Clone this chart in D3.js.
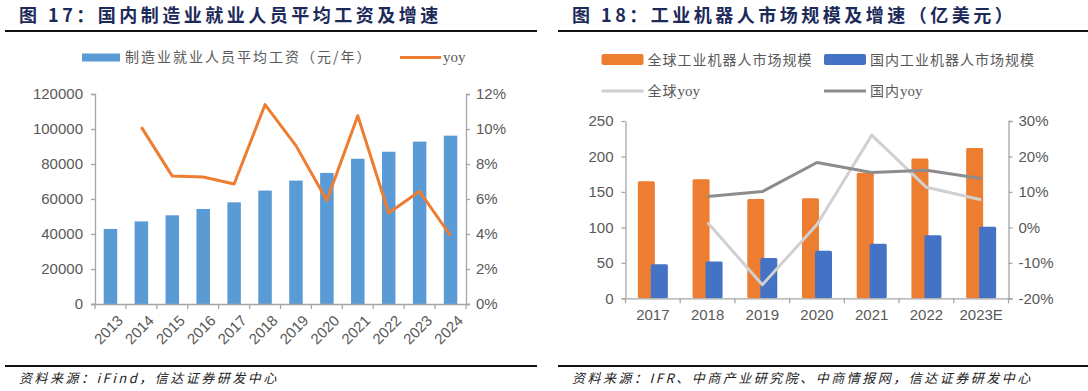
<!DOCTYPE html>
<html><head><meta charset="utf-8">
<script src="https://cdn.jsdelivr.net/npm/d3@7"></script>
<style>
body{margin:0;background:#fff;}
svg{display:block;}
text{font-family:"Liberation Sans",Arial,sans-serif;}
.cjk{font-family:"Noto Sans CJK SC",sans-serif;}
</style></head><body>
<svg id="c" width="1088" height="391"></svg>
<script>
// ---- Chart 17 data ----
const years17 = ["2013","2014","2015","2016","2017","2018","2019","2020","2021","2022","2023","2024"];
const wage17 = [42900,47200,50700,54300,58100,64800,70500,74900,83000,87000,92800,96200];
const yoy17 = [null,10.11,7.31,7.26,6.86,11.39,9.05,5.92,10.76,5.2,6.44,3.9];
const leftTicks17 = [0,20000,40000,60000,80000,100000,120000];
const rightTicks17 = [0,2,4,6,8,10,12];

// ---- Chart 18 data ----
const years18 = ["2017","2018","2019","2020","2021","2022","2023E"];
const global18 = [165,168,140,141,177,197,212];
const china18 = [48,52,57,67,77,89,101];
const globalYoy18 = [null,1.4,-16.2,0.8,26.0,11.3,7.8];
const chinaYoy18 = [null,8.7,10.1,18.3,15.5,16.1,13.8];
const leftTicks18 = [0,50,100,150,200,250];
const rightTicks18 = [-20,-10,0,10,20,30];

const svg = d3.select("#c");
const AX = "#a6a6a6", TX = "#595959", TITLE = "#1c2a5a";

function header(x0, x1, title, source, ls){
  svg.append("text").attr("class","cjk").attr("x", x0+14).attr("y", 22)
    .attr("font-size",18).attr("font-weight","bold").attr("fill",TITLE)
    .attr("letter-spacing",ls+"px").text(title);
  svg.append("line").attr("x1",x0).attr("x2",x1).attr("y1",31).attr("y2",31)
    .attr("stroke","#111").attr("stroke-width",2);
  svg.append("line").attr("x1",x0).attr("x2",x1).attr("y1",366).attr("y2",366)
    .attr("stroke","#111").attr("stroke-width",2);
  svg.append("text").attr("class","cjk").attr("x", x0+14).attr("y", 383)
    .attr("font-size",13).attr("font-style","italic").attr("fill","#222")
    .attr("letter-spacing","2.5px").text(source);
}

function legendText(sel, x, y, cjk, latin, ls){
  const t = sel.append("text").attr("x",x).attr("y",y).attr("font-size",14).attr("fill",TX);
  t.append("tspan").attr("class","cjk").attr("letter-spacing",ls+"px").text(cjk);
  if(latin) t.append("tspan").attr("font-family","'Liberation Serif',serif").attr("font-size",15).text(latin);
  return t;
}

// ================= Chart 17 =================
(function(){
  header(5, 537, "图 17：国内制造业就业人员平均工资及增速", "资料来源：iFind，信达证券研发中心", 3.5);
  const L = 95, R = 466, T = 94, B = 304;
  const x = d3.scaleBand().domain(years17).range([L,R]).paddingInner(0).paddingOuter(0);
  const y = d3.scaleLinear().domain([0,120000]).range([B,T]);
  const y2 = d3.scaleLinear().domain([0,12]).range([B,T]);
  const g = svg.append("g");
  const bw = 13.5;
  g.selectAll("rect.bar").data(years17).join("rect").attr("class","bar")
    .attr("x", d=>x(d)+x.bandwidth()/2-bw/2).attr("width", bw)
    .attr("y", (d,i)=>y(wage17[i])).attr("height",(d,i)=>B-y(wage17[i]))
    .attr("fill","#5b9bd5");
  const ya = g.append("g").attr("transform",`translate(${L},0)`)
    .call(d3.axisLeft(y).tickValues(leftTicks17).tickSize(4).tickPadding(8).tickFormat(d3.format("d")));
  const yb = g.append("g").attr("transform",`translate(${R},0)`)
    .call(d3.axisRight(y2).tickValues(rightTicks17).tickSize(4).tickPadding(6).tickFormat(d=>d+"%"));
  const xa = g.append("g").attr("transform",`translate(0,${B})`)
    .call(d3.axisBottom(x).tickSize(0).tickPadding(0));
  [ya,yb,xa].forEach(a=>{
    a.select(".domain").attr("stroke",AX).attr("stroke-width",1.3);
    a.selectAll(".tick line").attr("stroke",AX).attr("stroke-width",1.3);
    a.selectAll("text").attr("fill",TX).attr("font-size",15).attr("font-family","'Liberation Sans',Arial,sans-serif");
  });
  xa.select(".domain").attr("d",`M${L-4},0.5H${R+4}`);
  const bounds = years17.map(d=>x(d)).concat([R]);
  xa.selectAll("line.bt").data(bounds).join("line").attr("class","bt")
    .attr("x1",d=>d).attr("x2",d=>d).attr("y1",0).attr("y2",5)
    .attr("stroke",AX).attr("stroke-width",1.3);
  xa.selectAll(".tick text").attr("text-anchor","end")
    .attr("transform","translate(6,10) rotate(-45)").attr("dy","0.71em").attr("y",0);
  const pts = years17.map((d,i)=>[x(d)+x.bandwidth()/2, yoy17[i]]).filter(p=>p[1]!=null);
  g.append("path").datum(pts).attr("fill","none").attr("stroke","#ed7d31").attr("stroke-width",3)
    .attr("stroke-linejoin","round")
    .attr("d", d3.line().x(p=>p[0]).y(p=>y2(p[1])));
  svg.append("rect").attr("x",82).attr("y",53.5).attr("width",38).attr("height",8).attr("fill","#5b9bd5");
  legendText(svg, 125, 62, "制造业就业人员平均工资（元/年）", null, 2);
  svg.append("line").attr("x1",400).attr("x2",441).attr("y1",57.5).attr("y2",57.5)
    .attr("stroke","#ed7d31").attr("stroke-width",3);
  legendText(svg, 443, 62, "", "yoy", 0);
})();

// ================= Chart 18 =================
(function(){
  header(558, 1088, "图 18：工业机器人市场规模及增速（亿美元）", "资料来源：IFR、中商产业研究院、中商情报网，信达证券研发中心", 3.5);
  const L = 625.5, R = 1008.5, T = 121, B = 298.3;
  const x = d3.scaleBand().domain(years18).range([L,R]).padding(0);
  const y = d3.scaleLinear().domain([0,250]).range([B,T]);
  const y2 = d3.scaleLinear().domain([-20,30]).range([B,T]);
  const g = svg.append("g");
  const bw = 17, off = 6.5;
  g.selectAll("rect.g").data(years18).join("rect").attr("class","g")
    .attr("x", d=>x(d)+x.bandwidth()/2-off-bw/2).attr("width",bw)
    .attr("y",(d,i)=>y(global18[i])).attr("height",(d,i)=>B-y(global18[i]))
    .attr("rx",1.5).attr("fill","#ed7d31");
  g.selectAll("rect.c").data(years18).join("rect").attr("class","c")
    .attr("x", d=>x(d)+x.bandwidth()/2+off-bw/2).attr("width",bw)
    .attr("y",(d,i)=>y(china18[i])).attr("height",(d,i)=>B-y(china18[i]))
    .attr("rx",1.5).attr("fill","#4472c4");
  const ya = g.append("g").attr("transform",`translate(${L},0)`)
    .call(d3.axisLeft(y).tickValues(leftTicks18).tickSize(0).tickPadding(12));
  const yb = g.append("g").attr("transform",`translate(${R},0)`)
    .call(d3.axisRight(y2).tickValues(rightTicks18).tickSize(4).tickPadding(6).tickFormat(d=>d+"%"));
  const xa = g.append("g").attr("transform",`translate(0,${B})`)
    .call(d3.axisBottom(x).tickSize(0).tickPadding(11));
  [ya,yb,xa].forEach(a=>{
    a.select(".domain").attr("stroke",AX).attr("stroke-width",1.3);
    a.selectAll(".tick line").attr("stroke",AX).attr("stroke-width",1.3);
    a.selectAll("text").attr("fill",TX).attr("font-size",15).attr("font-family","'Liberation Sans',Arial,sans-serif");
  });
  ya.selectAll(".tick").append("line").attr("x2",-4).attr("stroke",AX).attr("stroke-width",1.3);
  xa.select(".domain").attr("d",`M${L-4},0.5H${R+4}`);
  const bounds = years18.map(d=>x(d)).concat([R]);
  xa.selectAll("line.bt").data(bounds).join("line").attr("class","bt")
    .attr("x1",d=>d).attr("x2",d=>d).attr("y1",0).attr("y2",5)
    .attr("stroke",AX).attr("stroke-width",1.3);
  const line = d3.line().x(p=>p[0]).y(p=>y2(p[1]));
  const gp = years18.map((d,i)=>[x(d)+x.bandwidth()/2, globalYoy18[i]]).filter(p=>p[1]!=null);
  const cp = years18.map((d,i)=>[x(d)+x.bandwidth()/2, chinaYoy18[i]]).filter(p=>p[1]!=null);
  g.append("path").datum(gp).attr("fill","none").attr("stroke","#d0d0d0").attr("stroke-width",3)
    .attr("stroke-linejoin","round").attr("d",line);
  g.append("path").datum(cp).attr("fill","none").attr("stroke","#8c8c8c").attr("stroke-width",3)
    .attr("stroke-linejoin","round").attr("d",line);
  const lg = svg.append("g");
  lg.append("rect").attr("x",601.5).attr("y",54).attr("width",42).attr("height",11).attr("rx",2).attr("fill","#ed7d31");
  legendText(lg, 647.5, 65, "全球工业机器人市场规模", null, 1);
  lg.append("rect").attr("x",824).attr("y",54).attr("width",42).attr("height",11).attr("rx",2).attr("fill","#4472c4");
  legendText(lg, 870, 65, "国内工业机器人市场规模", null, 1);
  lg.append("line").attr("x1",601.5).attr("x2",643.5).attr("y1",91).attr("y2",91).attr("stroke","#d0d0d0").attr("stroke-width",3);
  legendText(lg, 647.5, 96, "全球", "yoy", 1);
  lg.append("line").attr("x1",824).attr("x2",866).attr("y1",91).attr("y2",91).attr("stroke","#8c8c8c").attr("stroke-width",3);
  legendText(lg, 870, 96, "国内", "yoy", 1);
})();
</script></body></html>
